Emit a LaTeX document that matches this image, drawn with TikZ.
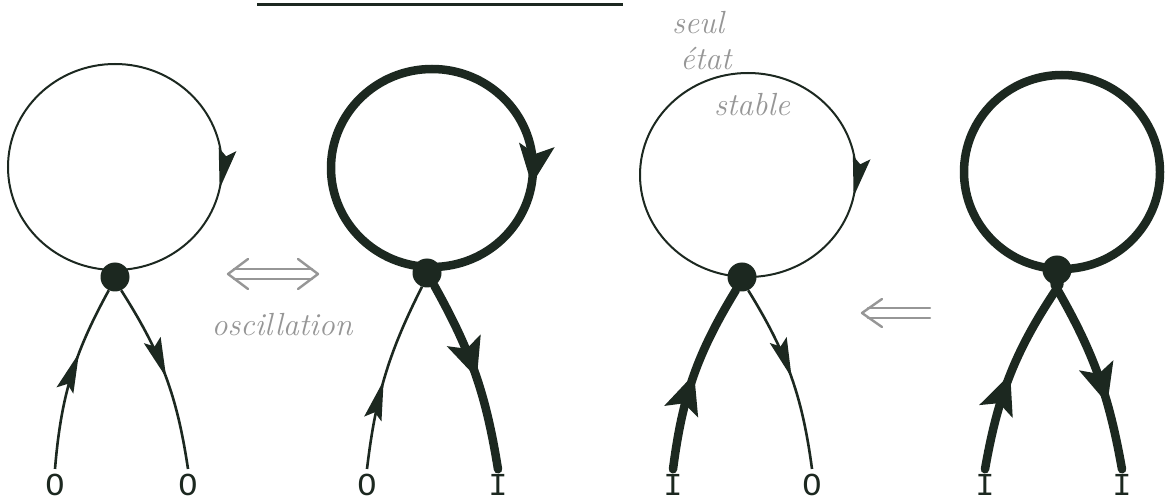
\documentclass[tikz,border=0pt]{standalone}
\usepackage{fontspec}
\setmonofont{Liberation Mono}
\usetikzlibrary{decorations.markings,calc}
\definecolor{ink}{RGB}{28,40,32}
\definecolor{pencil}{RGB}{150,150,150}
\tikzset{
  thinline/.style={draw=ink, line width=2pt},
  legthin/.style={draw=ink, line width=2.6pt},
  thickline/.style={draw=ink, line width=8.5pt, line cap=round},
  dotnode/.style={circle, fill=ink, minimum size=29pt, inner sep=0pt},
  lbl/.style={font=\ttfamily\fontsize{32}{32}\selectfont, text=ink, inner sep=5pt},
  hand/.style={font=\itshape\fontsize{32}{32}\selectfont, text=pencil, inner sep=0pt},
  thinarrowat/.style={postaction={decorate},
     decoration={markings, mark=at position #1 with
       {\fill[ink] (2pt,0pt) -- (-38pt,9pt) -- (-31pt,0pt) -- (-38pt,-9pt) -- cycle;}}},
  thickarrowat/.style={postaction={decorate},
     decoration={markings, mark=at position #1 with
       {\fill[ink] (4pt,0pt) -- (-36pt,18pt) -- (-27pt,0pt) -- (-36pt,-18pt) -- cycle;}}},
  pencilline/.style={draw=pencil, line width=2.4pt, line cap=round, line join=round},
}
\begin{document}
\begin{tikzpicture}[x=1pt,y=1pt]
\useasboundingbox (0,0) rectangle (1167,501);
\fill[white] (0,0) rectangle (1167,501);

% underline of the cut-off title
\draw[ink, line width=3pt] (257,496) -- (623,496);

% ---------- figure 1 : O O ----------
\coordinate (c1) at (115,334);
\node[dotnode] (d1) at (115,224) {};
\node[lbl] (a1) at (55,16) {O};
\node[lbl] (b1) at (188,16) {O};
\draw[thinline, thinarrowat=0.78] (c1) ++(0,-103) arc[start angle=-90, end angle=-450, x radius=107pt, y radius=103pt];
\draw[legthin, thinarrowat=0.62] (a1.north) to[bend left=12] (d1.-115);
\draw[legthin, thinarrowat=0.50] (d1.-65) to[bend left=12] (b1.north);

% ---------- figure 2 : O I ----------
\coordinate (c2) at (432,333);
\node[dotnode] (d2) at (427,228) {};
\node[lbl] (a2) at (367,16) {O};
\node[lbl] (b2) at (498,16) {I};
\draw[thickline, thickarrowat=0.77] (c2) ++(0,-99) arc[start angle=-90, end angle=-450, x radius=101pt, y radius=99pt];
\draw[legthin, thinarrowat=0.46] (a2.north) to[bend left=10] (d2.-110);
\draw[thickline, thickarrowat=0.50] (d2.-60) to[bend left=10] (b2.north);

% ---------- figure 3 : I O ----------
\coordinate (c3) at (748,326);
\node[dotnode] (d3) at (742,224) {};
\node[lbl] (a3) at (673,16) {I};
\node[lbl] (b3) at (812,16) {O};
\draw[thinline, thinarrowat=0.78] (c3) ++(0,-102) arc[start angle=-90, end angle=-450, x radius=108pt, y radius=102pt];
\draw[thickline, thickarrowat=0.49] (a3.north) to[bend left=12] (d3.-115);
\draw[legthin, thinarrowat=0.50] (d3.-65) to[bend left=12] (b3.north);

% ---------- figure 4 : I I ----------
\coordinate (c4) at (1062,329);
\node[dotnode] (d4) at (1057,231) {};
\node[lbl] (a4) at (985,16) {I};
\node[lbl] (b4) at (1122,16) {I};
\draw[thickline] (c4) ++(0,-97) arc[start angle=-90, end angle=-450, x radius=98pt, y radius=97pt];
\draw[thickline, thickarrowat=0.47] (a4.north) to[bend left=12] (d4.-80);
\draw[thickline, thickarrowat=0.64] (d4.-100) to[bend left=10] (b4.north);

% ---------- pencil annotations ----------
\coordinate (oscL) at (228,227);
\coordinate (oscR) at (318,227);
\draw[pencilline] ($(oscL)+(6,5)$) -- ($(oscR)+(-6,5)$);
\draw[pencilline] ($(oscL)+(6,-5)$) -- ($(oscR)+(-6,-5)$);
\draw[pencilline] ($(oscL)+(20,15)$) -- (oscL) -- ($(oscL)+(20,-15)$);
\draw[pencilline] ($(oscR)+(-20,15)$) -- (oscR) -- ($(oscR)+(-20,-15)$);
\node[hand] (osc) at (282,176) {oscillation};

\coordinate (backL) at (862,188);
\coordinate (backR) at (930,188);
\draw[pencilline] ($(backL)+(6,5)$) -- ($(backR)+(0,5)$);
\draw[pencilline] ($(backL)+(6,-5)$) -- ($(backR)+(0,-5)$);
\draw[pencilline] ($(backL)+(20,14)$) -- (backL) -- ($(backL)+(20,-14)$);

\node[hand] (seul) at (698,478) {seul};
\node[hand] (etat) at (706,442) {état};
\node[hand] (stab) at (752,396) {stable};
\end{tikzpicture}
\end{document}
